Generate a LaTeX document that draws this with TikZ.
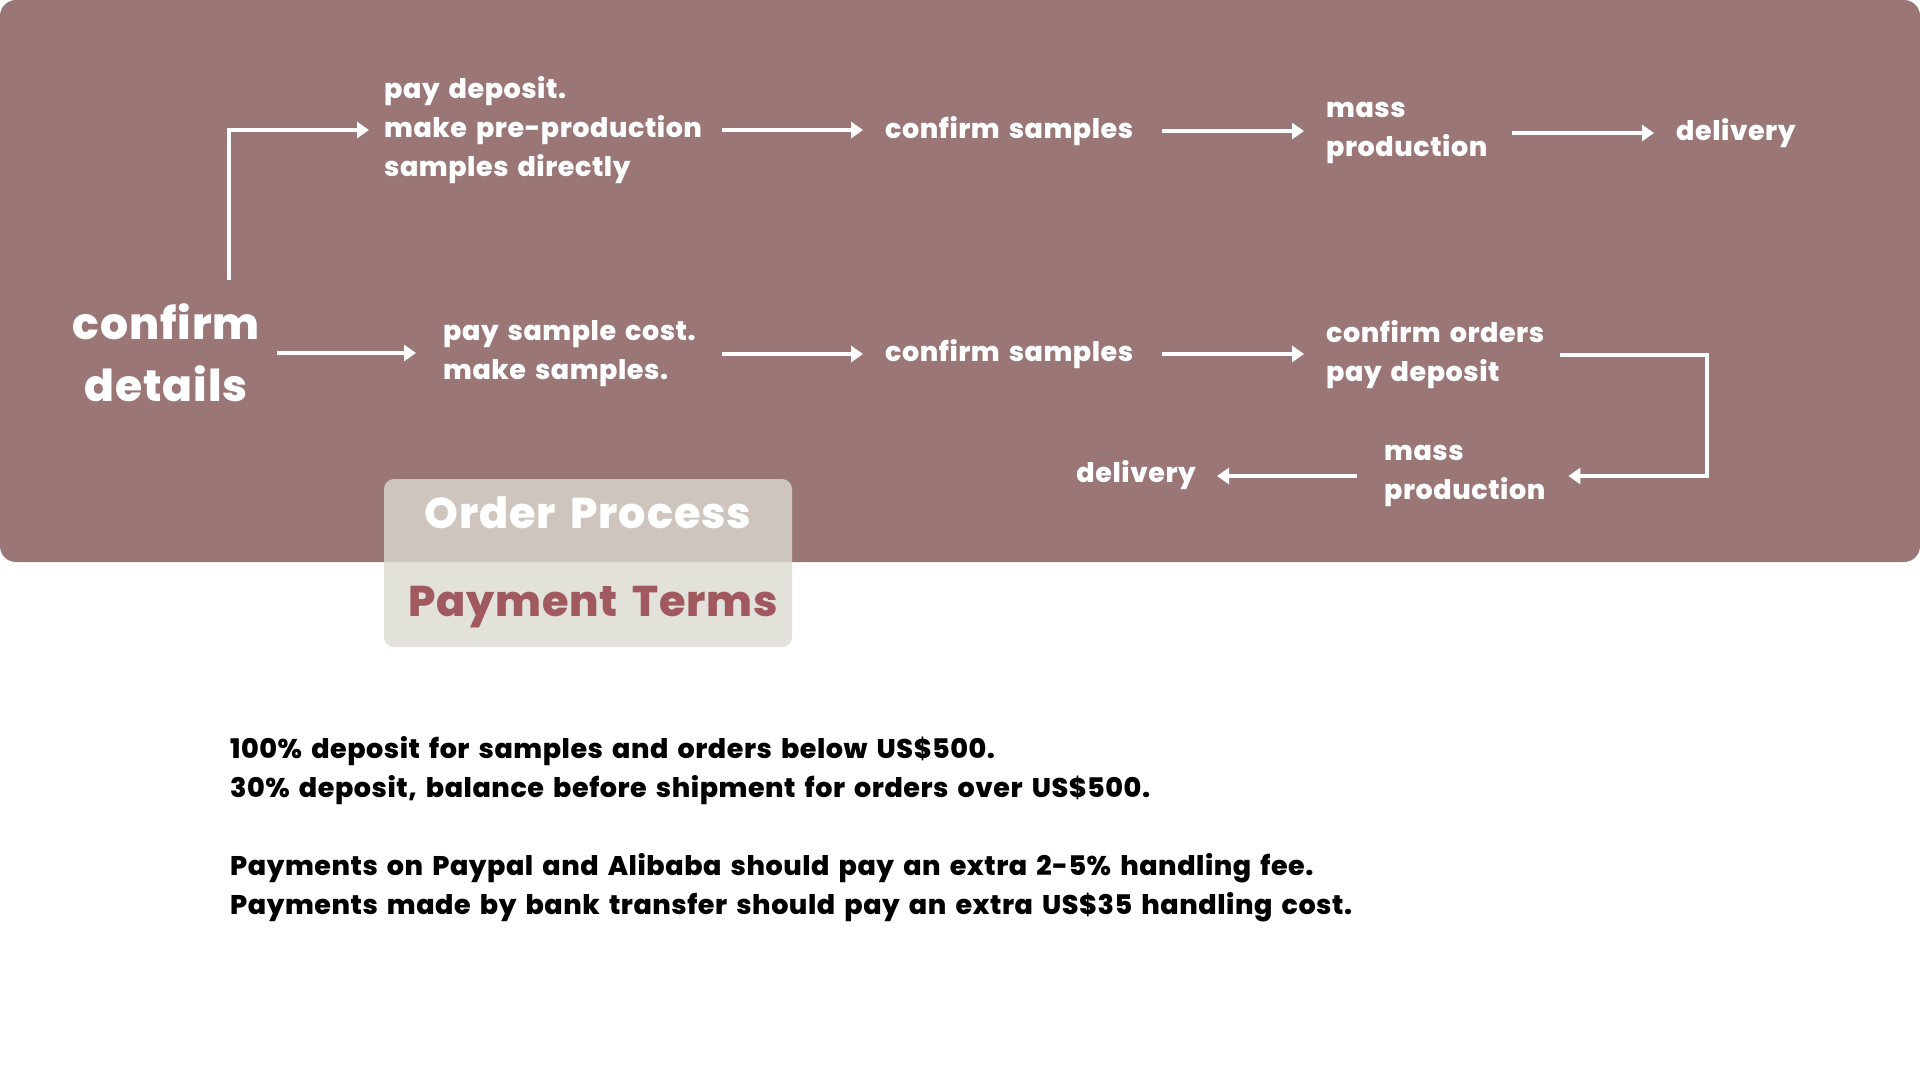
\documentclass[tikz,border=0pt]{standalone}
\usepackage{fontspec}
\setmainfont{Poppins}[BoldFont={Poppins ExtraBold}, LetterSpace=2, WordSpace=1.6]
\usepackage{tikz}
\usetikzlibrary{arrows.meta, positioning}
\definecolor{bgrose}{RGB}{155,118,118}
\definecolor{termrose}{RGB}{160,90,95}
\definecolor{tabgrey}{RGB}{219,218,209}

\begin{document}
\begin{tikzpicture}[
  x=1pt, y=-1pt,
  lbl/.style={text=white, inner sep=0pt, anchor=west, align=left,
              font=\fontsize{27}{39}\selectfont\bfseries},
  bigl/.style={lbl, align=center, font=\fontsize{44}{62}\selectfont\bfseries},
  tabtitle/.style={inner sep=0pt, font=\fontsize{43}{50}\selectfont\bfseries},
  arr/.style={-{Triangle[length=12pt,width=16pt]}, white, line width=3.5pt,
              shorten <=18pt, shorten >=22pt},
]
\useasboundingbox (0,0) rectangle (1920,1080);
\fill[bgrose, rounded corners=16pt] (0,0) rectangle (1920,562);

%% --- row with deposit first ---
\node[bigl, text width=188pt] (cd) at (72,353) {confirm\\details};
\node[lbl, text width=320pt] (dep) at (384,130) {pay deposit.\\make pre-production\\samples directly};
\node[lbl, text width=259pt] (cs1) at (885,131) {confirm samples};
\node[lbl, text width=168pt] (mp1) at (1326,133) {mass\\production};
\node[lbl] (del1) at (1676,133) {delivery};

\coordinate (split) at (229,280);
\draw[arr, shorten <=0pt, shorten >=15pt] (split) |- (dep.west);
\draw[arr] (dep.east) -- (dep.east -| cs1.west);
\draw[arr] (cs1.east) -- (cs1.east -| mp1.west);
\draw[arr] (mp1.east) -- (del1.west);

%% --- row with samples first ---
\node[lbl, text width=261pt] (psc) at (443,354) {pay sample cost.\\make samples.};
\node[lbl, text width=259pt] (cs2) at (885,354) {confirm samples};
\node[lbl, text width=223pt] (ord) at (1326,355) {confirm orders\\pay deposit};
\node[lbl, text width=164pt] (mp2) at (1384,476) {mass\\production};
\node[lbl, anchor=east] (del2) at (1196,475) {delivery};

\draw[arr, shorten <=17pt, shorten >=27pt] (cd.east) -- (cd.east -| psc.west);
\draw[arr] (psc.east) -- (psc.east -| cs2.west);
\draw[arr] (cs2.east) -- (cs2.east -| ord.west);
\coordinate (turn) at (1707,355);
\draw[arr, shorten <=11pt, shorten >=20pt] (ord.east) -- (turn) |- (mp2.east);
\draw[arr, shorten <=27pt, shorten >=21pt] (mp2.west) -- (mp2.west -| del2.east);

%% --- tabs ---
\node[fill=tabgrey, fill opacity=0.8, rounded corners=10pt, inner sep=0pt,
      minimum width=408pt, minimum height=168pt] (tab) at (588,563) {};
\node[tabtitle, text=white] (op) at (588,513) {Order Process};
\node[tabtitle, text=termrose] (pt) at (593,607) {Payment Terms};

%% --- payment terms text ---
\node[lbl, text=black] (terms) at (230,829) {100\% deposit for samples and orders below US\$500.\\
30\% deposit, balance before shipment for orders over US\$500.\\[39pt]
Payments on Paypal and Alibaba should pay an extra 2-5\% handling fee.\\
Payments made by bank transfer should pay an extra US\$35 handling cost.};

\end{tikzpicture}
\end{document}
